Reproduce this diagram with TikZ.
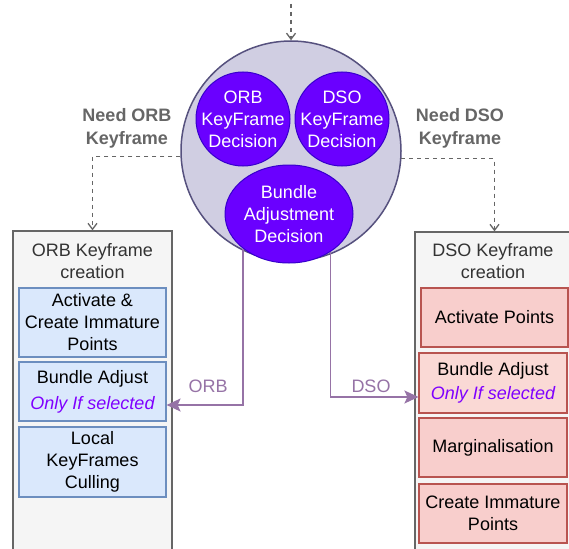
\documentclass[tikz,border=0pt]{standalone}
\usepackage{fontspec}
\setmainfont{Liberation Sans}
\usetikzlibrary{positioning}
\usetikzlibrary{shapes.geometric}
\usetikzlibrary{arrows.meta}
\definecolor{outerfill}{HTML}{F5F5F5}
\definecolor{outerline}{HTML}{666666}
\definecolor{titlegray}{HTML}{333333}
\definecolor{bluefill}{HTML}{DAE8FC}
\definecolor{blueline}{HTML}{6C8EBF}
\definecolor{redfill}{HTML}{F8CECC}
\definecolor{redfilllight}{HTML}{FAD9D5}
\definecolor{redline}{HTML}{B85450}
\definecolor{lilacfill}{HTML}{D0CEE2}
\definecolor{lilacline}{HTML}{56517E}
\definecolor{violetfill}{HTML}{6A00FF}
\definecolor{violetline}{HTML}{3700CC}
\definecolor{modeline}{HTML}{9673A6}
\definecolor{selcol}{HTML}{7F00FF}
\tikzset{txt/.style={font=\fontsize{18}{22}\selectfont, align=center, inner sep=0pt},
	outerbox/.style={draw=outerline, fill=outerfill, line width=1.2pt, minimum width=159pt, minimum height=329pt, inner sep=0pt},
	bluebox/.style={txt, draw=blueline, fill=bluefill, line width=1.2pt, minimum width=147pt},
	redbox/.style={txt, draw=redline, fill=redfill, line width=1.2pt, minimum width=148pt},
	decision/.style={txt, circle, draw=violetline, fill=violetfill, text=white, line width=1pt, minimum size=94pt, inner sep=-6pt},
	needlabel/.style={txt, font=\fontsize{18}{23}\selectfont\bfseries, text=outerline},
	modelabel/.style={txt, text=modeline},
	needarrow/.style={draw=outerline, line width=1.3pt, dash pattern=on 4pt off 4pt, -{Straight Barb[length=6pt,width=9pt]}},
	modearrow/.style={draw=modeline, line width=1.3pt, -{Stealth[length=14pt,width=13pt,inset=3pt]}}}
\begin{document}
\begin{tikzpicture}[x=1pt,y=-1pt]
	\useasboundingbox (0,0) rectangle (569,548);
	\clip (0,0) rectangle (569,548);
	\fill[white] (0,0) rectangle (569,548);
	% central decision
	\node[circle, draw=lilacline, fill=lilacfill, line width=1.5pt, minimum size=220pt] (central) at (291,151) {};
	\node[decision] (orbdec) at (243,119) {ORB\\KeyFrame\\Decision};
	\node[decision] (dsodec) at (342,119) {DSO\\KeyFrame\\Decision};
	\node[decision, ellipse, inner sep=0pt, minimum width=128pt, minimum height=98pt] (badec) at (289,214) {Bundle\\Adjustment\\Decision};
	% ORB side
	\node[outerbox] (orbbox) at (92.5,395.5) {};
	\node[txt, text=titlegray] (orbtitle) at (92.5,261) {ORB Keyframe\\creation};
	\node[bluebox, minimum height=69pt] (orbact) at (92.5,322.5) {Activate \&\\Create Immature\\Points};
	\node[bluebox, minimum height=59pt] (orbba) at (92.5,391.5) {Bundle Adjust\\[4pt]{\itshape\color{selcol}Only If selected}};
	\node[bluebox, minimum height=70pt] (orbcull) at (92.5,462) {Local\\KeyFrames\\Culling};
	% DSO side
	\node[outerbox] (dsobox) at (494.5,396.5) {};
	\node[txt, text=titlegray] (dsotitle) at (493,261) {DSO Keyframe\\creation};
	\node[redbox, minimum height=59pt, minimum width=147pt] (dsoact) at (494.5,317.5) {Activate Points};
	\node[redbox, fill=redfilllight, minimum height=60pt] (dsoba) at (493,383) {Bundle Adjust\\[2pt]{\itshape\color{selcol}Only If selected}};
	\node[redbox, minimum height=59pt] (dsomarg) at (493,447.5) {Marginalisation};
	\node[redbox, minimum height=59pt] (dsocreate) at (493,513.5) {Create Immature\\Points};
	% connectors
	\coordinate (entry) at (291,4);
	\draw[needarrow] (entry) -- (central.north);
	\draw[needarrow] (central.183.6) -| (orbbox.north);
	\draw[needarrow] (central.356.4) -| (dsobox.north);
	\node[needlabel] (needorb) at (127,128.5) {Need ORB\\Keyframe};
	\node[needlabel] (needdso) at (460,128.5) {Need DSO\\Keyframe};
	\draw[modearrow] (badec.217.9) |- ([yshift=-13.5pt]orbba.east);
	\draw[modearrow] (badec.318.6) |- ([yshift=-14pt]dsoba.west);
	\node[modelabel] (orblabel) at (208,386) {ORB};
	\node[modelabel] (dsolabel) at (371,386) {DSO};
\end{tikzpicture}
\end{document}
